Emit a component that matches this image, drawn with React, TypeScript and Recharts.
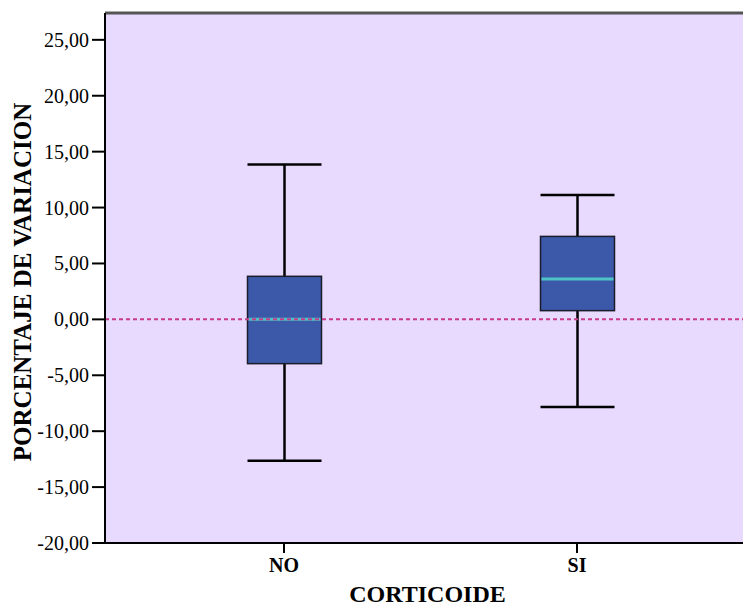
import {
  Bar,
  CartesianGrid,
  ComposedChart,
  Label,
  ReferenceLine,
  XAxis,
  YAxis,
} from "recharts";

// Box plot summary per group
const groups = ["NO", "SI"];
const whiskerLow = [-12.64, -7.84];
const quartile1 = [-3.96, 0.78];
const medians = [0.0, 3.6];
const quartile3 = [3.85, 7.42];
const whiskerHigh = [13.86, 11.12];

const yTicks = [-20, -15, -10, -5, 0, 5, 10, 15, 20, 25];
const yMin = -20;
const yMax = 27.4;

type BoxRow = {
  group: string;
  min: number;
  q1: number;
  median: number;
  q3: number;
  max: number;
};

const data: BoxRow[] = groups.map((group, i) => ({
  group,
  min: whiskerLow[i],
  q1: quartile1[i],
  median: medians[i],
  q3: quartile3[i],
  max: whiskerHigh[i],
}));

const serif = "Liberation Serif";
const boxFill = "#3C58A8";
const medianColor = "#4CC3C6";

// Bar spans min..max; the box, median and whiskers are placed inside it
const BoxShape = (props: any) => {
  const { x, y, width, height, payload } = props;
  const top = Math.min(y, y + height);
  const h = Math.abs(height);
  const row = payload as BoxRow;
  const span = row.max - row.min;
  const py = (v: number) => top + ((row.max - v) / span) * h;
  const cx = x + width / 2;
  return (
    <g>
      <line x1={cx} x2={cx} y1={py(row.max)} y2={py(row.q3)} stroke="#000" strokeWidth={2.5} />
      <line x1={cx} x2={cx} y1={py(row.q1)} y2={py(row.min)} stroke="#000" strokeWidth={2.5} />
      <line x1={x} x2={x + width} y1={py(row.max)} y2={py(row.max)} stroke="#000" strokeWidth={2.5} />
      <line x1={x} x2={x + width} y1={py(row.min)} y2={py(row.min)} stroke="#000" strokeWidth={2.5} />
      <rect
        x={x}
        y={py(row.q3)}
        width={width}
        height={py(row.q1) - py(row.q3)}
        fill={boxFill}
        stroke="#1b1b2a"
        strokeWidth={1.5}
      />
      <line
        x1={x + 1}
        x2={x + width - 1}
        y1={py(row.median)}
        y2={py(row.median)}
        stroke={medianColor}
        strokeWidth={3}
      />
    </g>
  );
};

const fmt = (v: number) => v.toFixed(2).replace(".", ",");

const YTick = (props: any) => {
  const { x, y, payload } = props;
  return (
    <text x={x} y={y + 7} textAnchor="end" fontFamily={serif} fontSize={20} fill="#000">
      {fmt(payload.value)}
    </text>
  );
};

const XTick = (props: any) => {
  const { x, y, payload } = props;
  return (
    <text
      x={x}
      y={y + 13}
      textAnchor="middle"
      fontFamily={serif}
      fontWeight="bold"
      fontSize={20}
      fill="#000"
    >
      {payload.value}
    </text>
  );
};

const XTitle = (props: any) => {
  const { viewBox } = props;
  return (
    <text
      x={viewBox.x + viewBox.width / 2 - 3}
      y={viewBox.y + viewBox.height - 4}
      textAnchor="middle"
      fontFamily={serif}
      fontWeight="bold"
      fontSize={24}
      fill="#000"
    >
      CORTICOIDE
    </text>
  );
};

const YTitle = (props: any) => {
  const { viewBox } = props;
  const cy = viewBox.y + viewBox.height / 2 + 4;
  return (
    <text
      x={0}
      y={0}
      transform={`translate(31, ${cy}) rotate(-90)`}
      textAnchor="middle"
      fontFamily={serif}
      fontWeight="bold"
      fontSize={25}
      fill="#000"
    >
      PORCENTAJE DE VARIACION
    </text>
  );
};

export default function App() {
  return (
    <div
      style={{
        position: "absolute",
        left: 0,
        top: 0,
        width: 743,
        height: 606,
        overflow: "hidden",
        background: "#fff",
      }}
    >
      <ComposedChart
        width={760}
        height={606}
        data={data}
        margin={{ top: 13, right: 4, bottom: 0, left: 0 }}
        style={{ fontFamily: serif }}
      >
        <CartesianGrid fill="#E8DAFE" stroke="none" horizontal={false} vertical={false} />
        <XAxis
          dataKey="group"
          padding={{ left: 32.5, right: 32.5 }}
          height={63}
          tickSize={10}
          tickMargin={6}
          axisLine={{ stroke: "#000", strokeWidth: 2 }}
          tickLine={{ stroke: "#000", strokeWidth: 2 }}
          tick={<XTick />}
        >
          <Label content={<XTitle />} />
        </XAxis>
        <YAxis
          type="number"
          width={105}
          domain={[yMin, yMax]}
          ticks={yTicks}
          allowDataOverflow
          interval={0}
          tickSize={13}
          tickMargin={3}
          axisLine={{ stroke: "#000", strokeWidth: 2 }}
          tickLine={{ stroke: "#000", strokeWidth: 2 }}
          tick={<YTick />}
        >
          <Label content={<YTitle />} />
        </YAxis>
        <ReferenceLine y={yMax} stroke="#555" strokeWidth={3} />
        <Bar
          dataKey={(d: BoxRow) => [d.min, d.max]}
          barSize={74}
          shape={<BoxShape />}
          isAnimationActive={false}
        />
        <ReferenceLine y={0} stroke="#C83D8A" strokeWidth={2} strokeDasharray="4 3" />
      </ComposedChart>
    </div>
  );
}
